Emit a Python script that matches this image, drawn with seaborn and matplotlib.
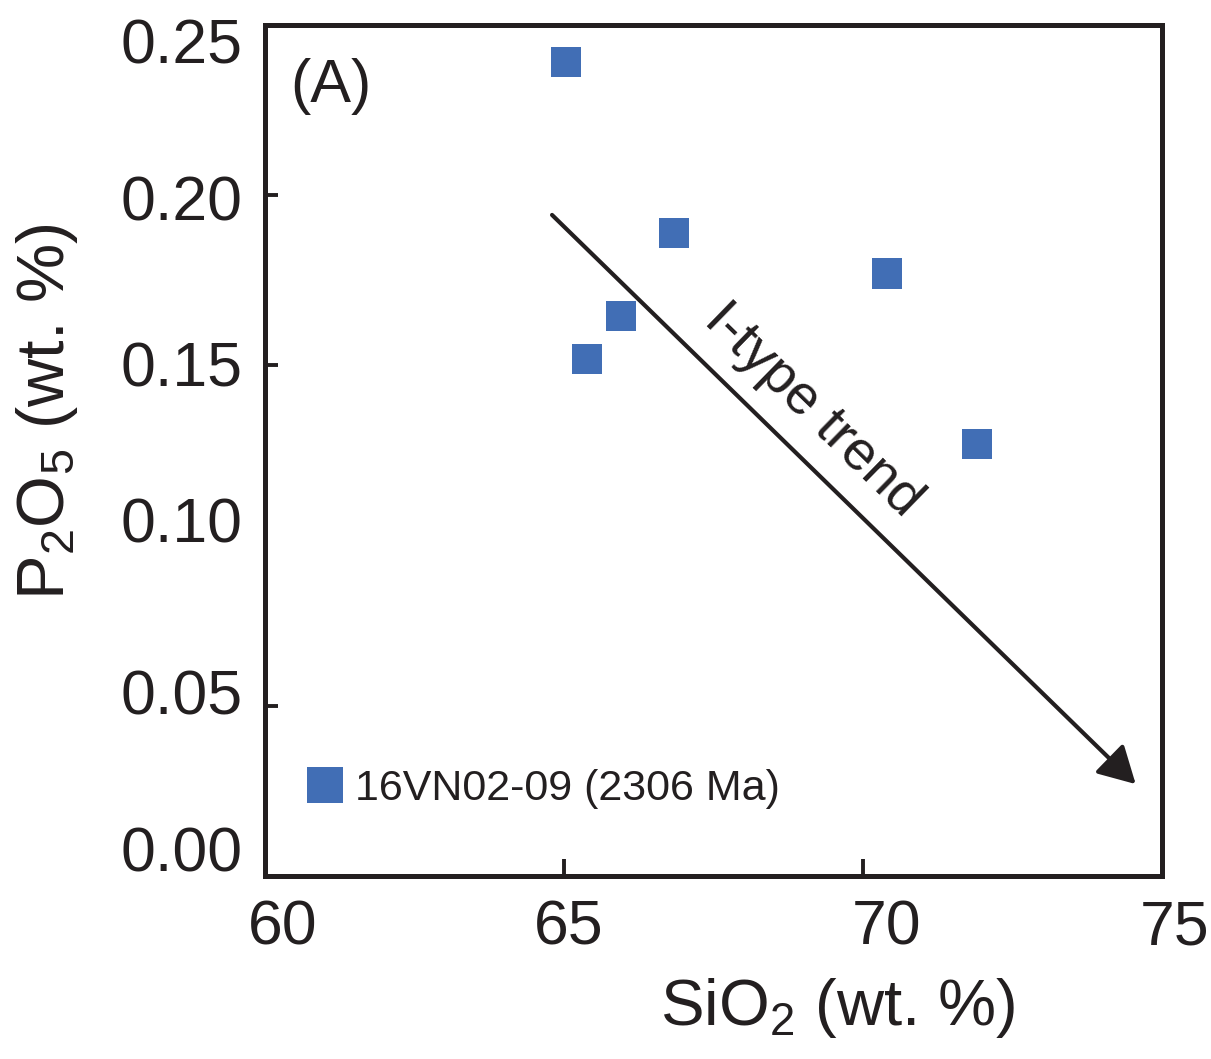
import matplotlib
matplotlib.use("Agg")
import matplotlib.pyplot as plt
import matplotlib.transforms as mtransforms
import seaborn as sns
import pandas as pd

# ---- data ----
sio2 = [65.03, 66.84, 70.40, 65.95, 65.38, 71.91]
p2o5 = [0.239, 0.189, 0.177, 0.1645, 0.152, 0.127]
sample_label = "16VN02-09 (2306 Ma)"
x_ticks = [60, 65, 70, 75]
y_ticks = [0.00, 0.05, 0.10, 0.15, 0.20, 0.25]
y_tick_labels = ["0.00", "0.05", "0.10", "0.15", "0.20", "0.25"]
trend_start = (64.80, 0.1942)
trend_end = (74.56, 0.0270)
trend_text = "I-type trend"
panel_label = "(A)"

sns.set_theme(style="ticks")
ink = "#231f20"
plt.rcParams["font.family"] = ["Liberation Sans", "DejaVu Sans"]
plt.rcParams["mathtext.fontset"] = "custom"
plt.rcParams["mathtext.rm"] = "Liberation Sans"
plt.rcParams["mathtext.it"] = "Liberation Sans:italic"
plt.rcParams["mathtext.bf"] = "Liberation Sans:bold"

fig = plt.figure(figsize=(12.11, 10.59), dpi=100)
ax = fig.add_axes([265 / 1211, 1 - 876 / 1059, (1162 - 265) / 1211, (876 - 25) / 1059])

df = pd.DataFrame({"SiO2": sio2, "P2O5": p2o5, "sample": sample_label})
sns.scatterplot(data=df, x="SiO2", y="P2O5", hue="sample", palette=["#416eb5"],
                marker="s", s=470, edgecolor="none", linewidth=0, ax=ax, zorder=3)

ax.set_xlim(60, 75)
ax.set_ylim(0, 0.25)
ax.set_xticks(x_ticks)
ax.set_yticks(y_ticks)
ax.set_yticklabels(y_tick_labels)

for sp in ax.spines.values():
    sp.set_linewidth(3.6)
    sp.set_color(ink)
    sp.set_visible(True)

ax.tick_params(axis="both", direction="in", width=2.8, color=ink,
               labelsize=45, labelcolor=ink, pad=16)
ax.tick_params(axis="x", length=12.5)
ax.tick_params(axis="y", length=9.5)
# hide tick marks on the frame edges and the missing 0.10 tick
for t in (ax.xaxis.get_major_ticks()[0], ax.xaxis.get_major_ticks()[-1]):
    t.tick1line.set_visible(False)
for i in (0, 2, 5):
    ax.yaxis.get_major_ticks()[i].tick1line.set_visible(False)

# small hand-layout shifts of the tick labels as in the original figure (pixels)
x_label_shift = [18, 5, 24, 13]
y_label_shift = [28, 14, 16, 2, -2, -16]
for tk, dx in zip(ax.xaxis.get_major_ticks(), x_label_shift):
    tk.label1.set_transform(tk.label1.get_transform() +
                            mtransforms.ScaledTranslation(dx / 100, 0, fig.dpi_scale_trans))
for tk, dy in zip(ax.yaxis.get_major_ticks(), y_label_shift):
    tk.label1.set_transform(tk.label1.get_transform() +
                            mtransforms.ScaledTranslation(0, dy / 100, fig.dpi_scale_trans))

ax.set_xlabel("SiO$_2$ (wt. %)", fontsize=47, color=ink)
ax.set_ylabel("P$_2$O$_5$ (wt. %)", fontsize=48, color=ink)
ax.xaxis.set_label_coords(0.638, -0.118)
ax.yaxis.set_label_coords(-0.206, 0.545)

ax.annotate("", xy=trend_end, xytext=trend_start,
            arrowprops=dict(arrowstyle="-|>,head_length=0.9,head_width=0.5",
                            color=ink, lw=3, mutation_scale=25, shrinkA=0, shrinkB=0))
ax.text(65.0 + (815 - 566) / 59.8, (876 - 410) / 3404, trend_text, rotation=-44.3,
        rotation_mode="anchor", ha="center", va="center", fontsize=40, color=ink)
ax.text(0.028, 0.928, panel_label, transform=ax.transAxes, fontsize=44,
        color=ink, ha="left", va="center")

leg = ax.legend(loc="center left", bbox_to_anchor=(0.043, 0.1025), frameon=False,
                fontsize=31, handletextpad=0.2, handlelength=1.0, markerscale=1.2,
                borderaxespad=0, borderpad=0)
for txt in leg.get_texts():
    txt.set_color(ink)

fig.savefig("out.png", dpi=100, facecolor="white")
